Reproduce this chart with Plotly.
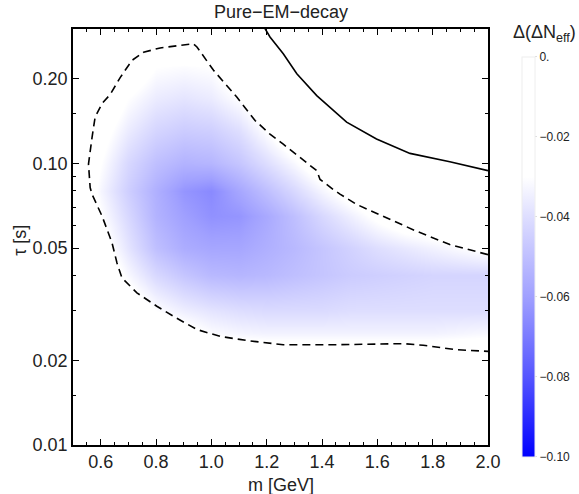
import plotly.graph_objects as go
import numpy as np

# ---- data ----
m_grid = [0.5, 0.6, 0.7, 0.8, 0.9, 1.0, 1.1, 1.2, 1.3, 1.4, 1.5, 1.6, 1.7, 1.8, 1.9, 2.0]
tau_grid = [0.01, 0.02, 0.025, 0.03, 0.04, 0.05, 0.065, 0.08, 0.1, 0.13, 0.17, 0.22, 0.3]
dneff = [
    # tau = 0.01
    [-0.015]*16,
    # tau = 0.02
    [-0.015, -0.015, -0.015, -0.015, -0.018, -0.02, -0.02, -0.02, -0.02, -0.02, -0.02, -0.02, -0.02, -0.02, -0.02, -0.02],
    # tau = 0.025
    [-0.015, -0.015, -0.015, -0.02, -0.026, -0.031, -0.033, -0.034, -0.034, -0.034, -0.034, -0.034, -0.034, -0.034, -0.033, -0.032],
    # tau = 0.03
    [-0.015, -0.015, -0.022, -0.030, -0.035, -0.038, -0.040, -0.041, -0.041, -0.041, -0.040, -0.040, -0.040, -0.040, -0.040, -0.040],
    # tau = 0.04
    [-0.015, -0.020, -0.032, -0.042, -0.048, -0.052, -0.053, -0.052, -0.050, -0.048, -0.046, -0.045, -0.044, -0.043, -0.043, -0.043],
    # tau = 0.05
    [-0.015, -0.025, -0.038, -0.050, -0.056, -0.058, -0.058, -0.055, -0.052, -0.048, -0.044, -0.040, -0.037, -0.034, -0.031, -0.028],
    # tau = 0.065
    [-0.015, -0.030, -0.042, -0.054, -0.060, -0.064, -0.063, -0.057, -0.050, -0.042, -0.035, -0.028, -0.022, -0.02, -0.02, -0.02],
    # tau = 0.08
    [-0.015, -0.033, -0.045, -0.055, -0.063, -0.066, -0.058, -0.050, -0.042, -0.033, -0.025, -0.02, -0.02, -0.02, -0.02, -0.02],
    # tau = 0.1
    [-0.015, -0.030, -0.042, -0.050, -0.054, -0.053, -0.048, -0.040, -0.032, -0.022, -0.02, -0.02, -0.02, -0.02, -0.02, -0.02],
    # tau = 0.13
    [-0.015, -0.026, -0.036, -0.043, -0.046, -0.045, -0.040, -0.030, -0.020, -0.015, -0.015, -0.015, -0.015, -0.015, -0.015, -0.015],
    # tau = 0.17
    [-0.015, -0.020, -0.030, -0.036, -0.038, -0.036, -0.030, -0.020, -0.015, -0.015, -0.015, -0.015, -0.015, -0.015, -0.015, -0.015],
    # tau = 0.22
    [-0.015, -0.015, -0.022, -0.030, -0.031, -0.030, -0.022, -0.015, -0.015, -0.015, -0.015, -0.015, -0.015, -0.015, -0.015, -0.015],
    # tau = 0.3
    [-0.015]*16,
]

# dashed contour (m [GeV], tau [s])
dash_m = [2.0, 1.862, 1.742, 1.634, 1.525, 1.465, 1.441, 1.393, 1.381, 1.260, 1.212, 1.158, 1.092, 1.008, 0.948, 0.935,
          0.875, 0.815, 0.755, 0.713, 0.671, 0.635, 0.605, 0.580, 0.569, 0.556, 0.562, 0.569, 0.605, 0.641, 0.659,
          0.677, 0.731, 0.803, 0.875, 0.948, 1.032, 1.128, 1.260, 1.453, 1.694, 1.766, 1.886, 2.0]
dash_tau = [0.0474, 0.0515, 0.0574, 0.0641, 0.0715, 0.0778, 0.0807, 0.0877, 0.0942, 0.117, 0.127, 0.142, 0.172, 0.214, 0.259, 0.266,
            0.262, 0.257, 0.248, 0.232, 0.202, 0.176, 0.163, 0.146, 0.124, 0.0994, 0.0821, 0.0776, 0.0650, 0.0522, 0.0443,
            0.0392, 0.0347, 0.0311, 0.0282, 0.0257, 0.0243, 0.0235, 0.0227, 0.0227, 0.0229, 0.0226, 0.0218, 0.0215]

# solid contour
solid_m = [1.194, 1.212, 1.260, 1.309, 1.381, 1.465, 1.489, 1.597, 1.718, 1.862, 2.0]
solid_tau = [0.301, 0.281, 0.245, 0.208, 0.174, 0.146, 0.140, 0.122, 0.1085, 0.1014, 0.0942]

x_ticks = [0.6, 0.8, 1.0, 1.2, 1.4, 1.6, 1.8, 2.0]
x_ticktext = ["0.6", "0.8", "1.0", "1.2", "1.4", "1.6", "1.8", "2.0"]
y_ticks = [0.01, 0.02, 0.05, 0.10, 0.20]
y_ticktext = ["0.01", "0.02", "0.05", "0.10", "0.20"]
y_minor = [0.015, 0.03, 0.04, 0.06, 0.07, 0.08, 0.09, 0.15]
cb_ticks = [0.0, -0.02, -0.04, -0.06, -0.08, -0.10]
cb_ticktext = ["0.", "\u22120.02", "\u22120.04", "\u22120.06", "\u22120.08", "\u22120.10"]

FONT = "Liberation Sans, Arial, sans-serif"

colorscale = [
    [0.0, "rgb(0,0,255)"],
    [0.2, "rgb(85,85,255)"],
    [0.4, "rgb(160,160,255)"],
    [0.6, "rgb(222,222,255)"],
    [0.7, "rgb(255,255,255)"],
    [1.0, "rgb(255,255,255)"],
]

fig = go.Figure()
fig.add_trace(go.Heatmap(
    x=m_grid, y=tau_grid, z=dneff, zmin=-0.1, zmax=0.0, zsmooth="best",
    colorscale=colorscale,
    colorbar=dict(
        x=1.077, xanchor="left", xpad=2, y=0.452, yanchor="middle", ypad=0,
        lenmode="pixels", len=400, thickness=13, outlinewidth=1, outlinecolor="#eeeeee",
        tickvals=cb_ticks, ticktext=cb_ticktext,
        ticks="outside", ticklen=2, tickcolor="#dddddd",
        tickfont=dict(family=FONT, size=12, color="#222222"),
    ),
    showscale=True, hoverinfo="skip",
))
fig.add_trace(go.Scatter(x=dash_m, y=dash_tau, mode="lines",
                         line=dict(color="black", width=1.6, dash="8px,5px"),
                         showlegend=False, hoverinfo="skip"))
fig.add_trace(go.Scatter(x=solid_m, y=solid_tau, mode="lines",
                         line=dict(color="black", width=1.6),
                         showlegend=False, hoverinfo="skip"))

axis_common = dict(
    showgrid=False, zeroline=False, showline=True, linecolor="black", linewidth=1.5,
    mirror="ticks", ticks="inside", ticklen=6, tickwidth=1, tickcolor="black",
    tickfont=dict(family=FONT, size=18, color="#222222"),
)
fig.update_xaxes(range=[0.5, 2.0], tickvals=x_ticks, ticktext=x_ticktext,
                 minor=dict(dtick=0.05, tick0=0.5, ticks="inside", ticklen=3, tickcolor="black"),
                 **axis_common)
fig.update_yaxes(type="log", range=[np.log10(0.01), np.log10(0.3)], tickvals=y_ticks, ticktext=y_ticktext,
                 minor=dict(tickmode="array", tickvals=y_minor, ticks="inside", ticklen=3, tickcolor="black"),
                 **axis_common)

fig.update_layout(
    width=579, height=494,
    margin=dict(l=73, r=91, t=29, b=49, autoexpand=False),
    plot_bgcolor="white", paper_bgcolor="white",
    showlegend=False,
    annotations=[
        dict(text="Pure\u2212EM\u2212decay", x=0.5, y=1.041, xref="paper", yref="paper",
             showarrow=False, font=dict(family=FONT, size=18, color="#222222"), xanchor="center", yanchor="middle"),
        dict(text="m [GeV]", x=0.5, y=-0.096, xref="paper", yref="paper",
             showarrow=False, font=dict(family=FONT, size=18, color="#222222"), xanchor="center", yanchor="middle"),
        dict(text="\u03c4 [s]", x=-0.128, y=0.493, xref="paper", yref="paper", textangle=-90,
             showarrow=False, font=dict(family=FONT, size=18, color="#222222"), xanchor="center", yanchor="middle"),
        dict(text="\u0394(\u0394N<sub>eff</sub>)", x=1.137, y=0.99, xref="paper", yref="paper",
             showarrow=False, font=dict(family=FONT, size=18, color="#222222"), xanchor="center", yanchor="middle"),
    ],
)

fig.write_html("out.html")
